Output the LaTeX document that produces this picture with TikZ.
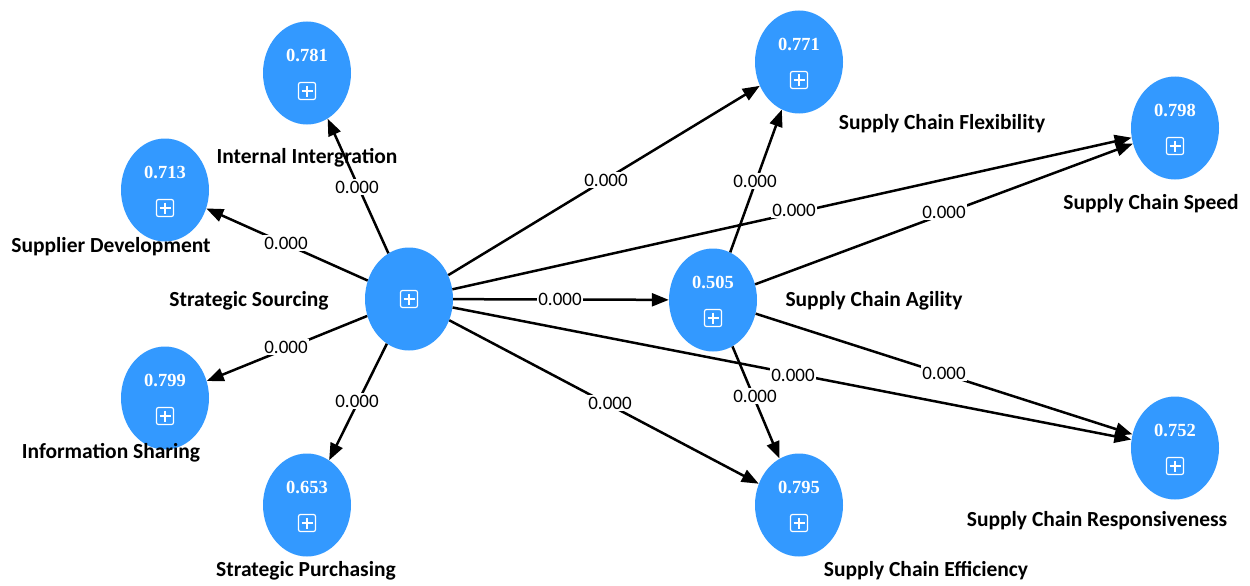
\documentclass[tikz,border=0pt]{standalone}
\usepackage{fontspec}
\setmainfont{Carlito}
\newfontfamily\numfont{Liberation Serif}
\usetikzlibrary{arrows.meta,shapes.geometric,calc}
\definecolor{nodeblue}{HTML}{3399FF}
\tikzset{
  lv/.style={ellipse,fill=nodeblue,minimum width=88pt,minimum height=103pt,inner sep=0pt},
  lbl/.style={font=\fontsize{21.5}{24}\selectfont\bfseries,text=black},
  elab/.style={font=\fontsize{19}{22}\selectfont,fill=white,inner sep=1.5pt},
  path/.style={line width=2.5pt,-{Triangle[length=17pt,width=13pt]}},
  val/.style={font=\numfont\fontsize{18.5}{20}\selectfont\bfseries,text=white},
}
\newcommand{\plusicon}[1]{%
  \draw[white,line width=1.2pt,rounded corners=2pt] ($(#1)+(-8.5,-8.5)$) rectangle ($(#1)+(8.5,8.5)$);
  \draw[white,line width=1.2pt] ($(#1)+(-5.5,0)$) -- ($(#1)+(5.5,0)$) ($(#1)+(0,-5.5)$) -- ($(#1)+(0,5.5)$);}
\begin{document}
\begin{tikzpicture}[x=1pt,y=-1pt]
\useasboundingbox (0,0) rectangle (1250,586);
% nodes
\node[lv] (ii) at (307,73) {};
\node[lv] (sd) at (165,190) {};
\node[lv] (ss) at (409,299) {};
\node[lv] (is) at (165,398) {};
\node[lv] (sp) at (307,505) {};
\node[lv] (ag) at (713,300) {};
\node[lv] (fl) at (799,62) {};
\node[lv] (spd) at (1175,128) {};
\node[lv] (rs) at (1175,448) {};
\node[lv] (ef) at (799,505) {};
% values
\foreach \n/\v in {ii/0.781,sd/0.713,is/0.799,sp/0.653,ag/0.505,fl/0.771,spd/0.798,rs/0.752,ef/0.795}{
  \node[val] (v\n) at ($(\n)+(0,-18)$) {\v};
  \plusicon{$(\n)+(0,18)$}
}
\plusicon{ss}
% labels
\node[lbl] (lii) at (307,158) {Internal Intergration};
\node[lbl] (lsd) at (111,247) {Supplier Development};
\node[lbl] (lss) at (249,301) {Strategic Sourcing};
\node[lbl] (lis) at (111,453) {Information Sharing};
\node[lbl] (lsp) at (306,571) {Strategic Purchasing};
\node[lbl] (lag) at (874,301) {Supply Chain Agility};
\node[lbl] (lfl) at (942,124) {Supply Chain Flexibility};
\node[lbl] (lspd) at (1151,204) {Supply Chain Speed};
\node[lbl] (lrs) at (1097,521) {Supply Chain Responsiveness};
\node[lbl] (lef) at (926,571) {Supply Chain Efficiency};
% connectors
\draw[path] (ss) -- (ii);
\draw[path] (ss) -- (sd);
\draw[path] (ss) -- (is);
\draw[path] (ss) -- (sp);
\draw[path] (ss) -- (fl);
\draw[path] (ss) -- (spd);
\draw[path] (ss) -- (ag);
\draw[path] (ss) -- (rs);
\draw[path] (ss) -- (ef);
\draw[path] (ag) -- (fl);
\draw[path] (ag) -- (spd);
\draw[path] (ag) -- (rs);
\draw[path] (ag) -- (ef);
% edge labels
\node[elab] (e1) at (357,187) {0.000};
\node[elab] (e2) at (286,243) {0.000};
\node[elab] (e3) at (286,347) {0.000};
\node[elab] (e4) at (357,401) {0.000};
\node[elab] (e5) at (606,180) {0.000};
\node[elab] (e6) at (794,210) {0.000};
\node[elab] (e7) at (560,299) {0.000};
\node[elab] (e8) at (793,375) {0.000};
\node[elab] (e9) at (610,403) {0.000};
\node[elab] (e10) at (755,181) {0.000};
\node[elab] (e11) at (944,212) {0.000};
\node[elab] (e12) at (944,373) {0.000};
\node[elab] (e13) at (755,396) {0.000};
\end{tikzpicture}
\end{document}
